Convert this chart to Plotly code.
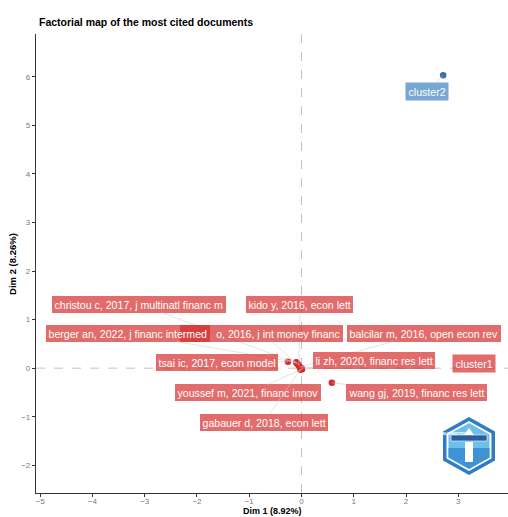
import plotly.graph_objects as go

# ---- data ---------------------------------------------------------------
doc_labels = [
    "christou c, 2017, j multinatl financ m",
    "kido y, 2016, econ lett",
    "o, 2016, j int money financ",
    "berger an, 2022, j financ intermed",
    "balcilar m, 2016, open econ rev",
    "tsai ic, 2017, econ model",
    "li zh, 2020, financ res lett",
    "youssef m, 2021, financ innov",
    "wang gj, 2019, financ res lett",
    "gabauer d, 2018, econ lett",
]
doc_dim1 = [-0.09, -0.05, -0.07, -0.10, -0.03, -0.26, 0.00, 0.01, 0.58, -0.02]
doc_dim2 = [0.10, 0.05, 0.08, 0.12, 0.02, 0.13, 0.00, -0.02, -0.30, -0.03]

c2_labels = ["cluster2"]
c2_dim1 = [2.71]
c2_dim2 = [6.03]

cluster_names = ["cluster1", "cluster2"]

x_ticks = [-5, -4, -3, -2, -1, 0, 1, 2, 3]
y_ticks = [-2, -1, 0, 1, 2, 3, 4, 5, 6]

# label placement (repelled text positions, data units)
doc_label_x = [-3.11, -0.03, -0.76, -3.32, 2.34, -1.62, 1.39, -1.02, 2.19, -0.72]
doc_label_y = [1.32, 1.32, 0.72, 0.72, 0.72, 0.11, 0.15, -0.51, -0.51, -1.11]
cluster1_label_xy = (3.30, 0.09)
cluster2_label_xy = (2.40, 5.69)

# ---- style --------------------------------------------------------------
FONT = "Liberation Sans, Arial, Helvetica, sans-serif"
RED_PT = "#d42a2a"
RED_BOX = "rgba(214,44,44,0.70)"
BLUE_PT = "#3a6fa6"
BLUE_BOX = "rgba(62,130,190,0.70)"
SEG = "#cfcfcf"
LABEL_SIZE = 10.6

fig = go.Figure()

fig.add_trace(go.Scatter(
    x=doc_dim1, y=doc_dim2, mode="markers",
    marker=dict(color=RED_PT, size=6.5, line=dict(width=0)),
    hoverinfo="skip", showlegend=False,
))
fig.add_trace(go.Scatter(
    x=c2_dim1, y=c2_dim2, mode="markers",
    marker=dict(color=BLUE_PT, size=6.5, line=dict(width=0)),
    hoverinfo="skip", showlegend=False,
))

annotations = []
for lab, px, py, lx, ly in zip(doc_labels, doc_dim1, doc_dim2, doc_label_x, doc_label_y):
    extra = {}
    if lab.startswith("o, 2016"):
        extra = dict(width=158, align="right")
    annotations.append(dict(
        x=px, y=py, ax=lx, ay=ly, xref="x", yref="y", axref="x", ayref="y",
        text=lab, showarrow=True, arrowhead=0, arrowwidth=0.6, arrowcolor=SEG,
        standoff=0, startstandoff=0,
        font=dict(family=FONT, size=LABEL_SIZE, color="white"),
        bgcolor=RED_BOX, borderpad=2.5, borderwidth=0, **extra,
    ))

annotations.append(dict(
    x=cluster1_label_xy[0], y=cluster1_label_xy[1], xref="x", yref="y",
    text=cluster_names[0], showarrow=False,
    font=dict(family=FONT, size=LABEL_SIZE, color="white"),
    bgcolor=RED_BOX, borderpad=2.5,
))
annotations.append(dict(
    x=c2_dim1[0], y=c2_dim2[0], ax=cluster2_label_xy[0], ay=cluster2_label_xy[1],
    xref="x", yref="y", axref="x", ayref="y",
    text=cluster_names[1], showarrow=True, arrowhead=0, arrowwidth=0.6,
    arrowcolor="#f0c8b0", standoff=0,
    font=dict(family=FONT, size=LABEL_SIZE, color="white"),
    bgcolor=BLUE_BOX, borderpad=2.5,
))

# titles
annotations.append(dict(
    x=0.002, y=1.026, xref="paper", yref="paper", xanchor="left", yanchor="middle",
    text="<b>Factorial map of the most cited documents</b>", showarrow=False,
    font=dict(family=FONT, size=10.5, color="black"),
))
annotations.append(dict(
    x=0.5, y=-23.8 / 459, xref="paper", yref="paper", xanchor="center", yanchor="bottom",
    text="<b>Dim 1 (8.92%)</b>", showarrow=False, borderpad=0,
    font=dict(family=FONT, size=9, color="black"),
))
annotations.append(dict(
    x=-0.05, y=0.5, xref="paper", yref="paper", xanchor="center", yanchor="middle",
    text="<b>Dim 2 (8.26%)</b>", showarrow=False, textangle=-90,
    font=dict(family=FONT, size=9.5, color="black"),
))

# logo badge (bottom right)
W, H = 472.0, 459.0
def hexpath(cx, cy, hw, hh):
    pts = [(0, -hh), (hw, -hh / 2), (hw, hh / 2), (0, hh), (-hw, hh / 2), (-hw, -hh / 2)]
    s = ""
    for i, (dx, dy) in enumerate(pts):
        xp = (cx + dx - 36) / W
        yp = (493 - (cy + dy)) / H
        s += ("M" if i == 0 else "L") + f"{xp:.4f},{yp:.4f} "
    return s + "Z"

def px2paper(x, y):
    return (x - 36) / W, (493 - y) / H

shapes = [
    dict(type="line", x0=0, x1=0, y0=0, y1=1, xref="x", yref="paper",
         line=dict(color="#c2c2c2", width=1, dash="dash"), layer="below"),
    dict(type="line", x0=0, x1=1, y0=0, y1=0, xref="paper", yref="y",
         line=dict(color="#c2c2c2", width=1, dash="dash"), layer="below"),
    dict(type="path", path=hexpath(469, 446, 26, 29), xref="paper", yref="paper",
         fillcolor="#2f7cc4", line=dict(width=0), layer="above"),
    dict(type="path", path=hexpath(469, 446, 22.5, 25), xref="paper", yref="paper",
         fillcolor="white", line=dict(width=0), layer="above"),
    dict(type="path", path=hexpath(469, 446, 20.5, 23), xref="paper", yref="paper",
         fillcolor="#6cc0ea", line=dict(width=0), layer="above"),
]
# lower darker half of the badge
lx0, ly0 = px2paper(448.5, 448)
lx1, ly1 = px2paper(489.5, 448)
bx, by = px2paper(469, 469)
rx, ry = px2paper(489.5, 457.5)
llx, lly = px2paper(448.5, 457.5)
shapes.append(dict(type="path",
                   path=f"M{lx0:.4f},{ly0:.4f} L{lx1:.4f},{ly1:.4f} L{rx:.4f},{ry:.4f} "
                        f"L{bx:.4f},{by:.4f} L{llx:.4f},{lly:.4f} Z",
                   xref="paper", yref="paper", fillcolor="#3f93d4",
                   line=dict(width=0), layer="above"))
bx0, by0 = px2paper(451, 441)
bx1, by1 = px2paper(487, 435)
shapes.append(dict(type="rect", x0=bx0, x1=bx1, y0=by0, y1=by1, xref="paper", yref="paper",
                   fillcolor="#2a5f9e", line=dict(color="white", width=0.6), layer="above"))
tx0, ty0 = px2paper(465, 462)
tx1, ty1 = px2paper(473, 442)
shapes.append(dict(type="rect", x0=tx0, x1=tx1, y0=ty0, y1=ty1, xref="paper", yref="paper",
                   fillcolor="white", line=dict(width=0), layer="above"))
ax0, ay0 = px2paper(464, 435)
ax1, ay1 = px2paper(469, 428)
ax2, ay2 = px2paper(474, 435)
shapes.append(dict(type="path",
                   path=f"M{ax0:.4f},{ay0:.4f} L{ax1:.4f},{ay1:.4f} L{ax2:.4f},{ay2:.4f} Z",
                   xref="paper", yref="paper", fillcolor="white", line=dict(width=0),
                   layer="above"))
cx_, cy_ = px2paper(469, 438)
annotations.append(dict(
    x=cx_, y=cy_, xref="paper", yref="paper",
    text="<b>BIBLIOMETRIX</b>", showarrow=False,
    font=dict(family=FONT, size=4, color="white"),
))

axis_common = dict(
    showgrid=False, zeroline=False, showline=True, linecolor="#333333", linewidth=1.3,
    ticks="outside", ticklen=3, tickwidth=1, tickcolor="#333333",
    tickfont=dict(family=FONT, size=8, color="#7a7a7a"),
)

fig.update_layout(
    width=508, height=517,
    margin=dict(l=36, r=0, t=34, b=24),
    paper_bgcolor="white", plot_bgcolor="white",
    xaxis=dict(range=[-5.08, 3.95], tickvals=x_ticks,
               ticktext=[str(v).replace("-", "\u2212") for v in x_ticks],
               ticklabelstandoff=-3, **axis_common),
    yaxis=dict(range=[-2.57, 6.88], tickvals=y_ticks,
               ticktext=[str(v).replace("-", "\u2212") for v in y_ticks], **axis_common),
    annotations=annotations,
    shapes=shapes,
    showlegend=False,
)

fig.write_html("out.html")
